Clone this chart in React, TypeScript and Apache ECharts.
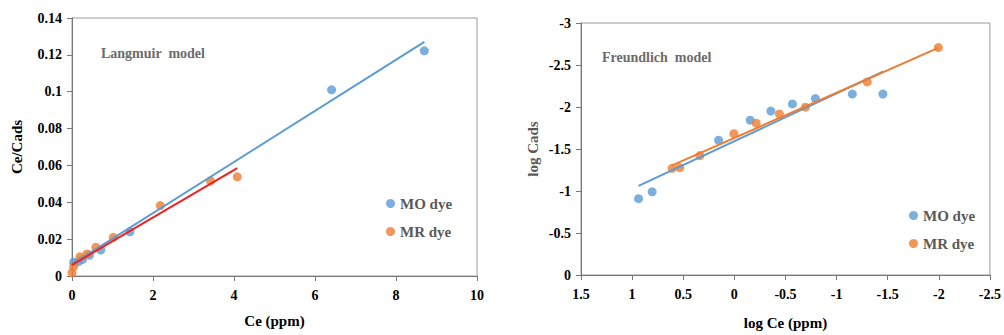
import React, { useEffect, useRef } from "react";
import * as echarts from "echarts";

// Langmuir model data (Ce ppm, Ce/Cads)
const langMO: [number, number][] = [
  [0.04, 0.0075], [0.16, 0.0078], [0.26, 0.009], [0.43, 0.0112], [0.71, 0.0141],
  [1.43, 0.024], [6.41, 0.101], [8.7, 0.1222],
];
const langMR: [number, number][] = [
  [0.0, 0.0018], [0.04, 0.005], [0.2, 0.0105], [0.37, 0.012], [0.59, 0.0156],
  [1.02, 0.021], [2.18, 0.0382], [3.42, 0.0516], [4.08, 0.0538],
];
const langMOFit: [number, number][] = [[0, 0.0064], [8.7, 0.127]];
const langMRFit: [number, number][] = [[0, 0.006], [4.08, 0.0585]];

// Freundlich model data (log Ce, log Cads)
const freMO: [number, number][] = [
  [0.937, -0.908], [0.804, -0.99], [0.154, -1.605], [-0.155, -1.843], [-0.357, -1.952],
  [-0.568, -2.037], [-0.793, -2.1], [-1.154, -2.154], [-1.453, -2.154],
];
const freMR: [number, number][] = [
  [0.609, -1.27], [0.534, -1.278], [0.336, -1.422], [0.004, -1.683], [-0.214, -1.808],
  [-0.441, -1.917], [-0.695, -1.998], [-1.3, -2.298], [-1.996, -2.707],
];
const freMOFit: [number, number][] = [[0.937, -1.06], [-1.453, -2.42]];
const freMRFit: [number, number][] = [[0.609, -1.305], [-2.0, -2.707]];

const seriesNames = ["MO dye", "MR dye"];
const modelTitles = ["Langmuir  model", "Freundlich  model"];

const BLUE = "#5B9BD5";
const ORANGE = "#ED7D31";
const RED = "#F41F1F";
const FONT = "'Liberation Serif', 'Times New Roman', serif";

export default function App() {
  const ref = useRef<HTMLDivElement>(null);
  useEffect(() => {
    if (!ref.current) return;
    const chart = echarts.init(ref.current, null, { renderer: "svg" });
    const axisLabel = (margin: number) => ({
      fontFamily: FONT,
      fontWeight: "bold",
      fontSize: 14,
      color: "#000",
      margin,
    });
    const axisLine = { show: true, lineStyle: { color: "#777", width: 1 } };
    const axisTick = { show: true, inside: false, length: 5, lineStyle: { color: "#777" } };
    const nameStyle = (color: string) => ({
      fontFamily: FONT,
      fontWeight: "bold",
      fontSize: 15,
      color,
    });
    const legendCommon = {
      orient: "vertical",
      icon: "circle",
      itemWidth: 9,
      itemHeight: 9,
      itemGap: 13,
      textStyle: { fontFamily: FONT, fontWeight: "bold", fontSize: 15, color: "#595959" },
      data: seriesNames,
      selectedMode: false,
    };
    chart.setOption({
      animation: false,
      backgroundColor: "#fff",
      grid: [
        { left: 72, right: 527, top: 18, bottom: 59, show: true, borderColor: "#999", borderWidth: 1 },
        { left: 581, right: 13, top: 23, bottom: 55, show: true, borderColor: "#999", borderWidth: 1 },
      ],
      legend: [
        { ...legendCommon, left: 381, top: 191 },
        { ...legendCommon, left: 904, top: 203 },
      ],
      graphic: [
        {
          type: "text",
          left: 101,
          top: 46,
          style: { text: modelTitles[0], fontFamily: FONT, fontWeight: "bold", fontSize: 14, fill: "#6b6b6b" },
        },
        {
          type: "text",
          left: 602,
          top: 50,
          style: { text: modelTitles[1], fontFamily: FONT, fontWeight: "bold", fontSize: 14, fill: "#6b6b6b" },
        },
      ],
      xAxis: [
        {
          gridIndex: 0,
          type: "value",
          min: 0,
          max: 10,
          interval: 2,
          name: "Ce (ppm)",
          nameLocation: "middle",
          nameGap: 37,
          nameTextStyle: nameStyle("#000"),
          axisLine,
          axisTick,
          axisLabel: axisLabel(12),
          splitLine: { show: false },
        },
        {
          gridIndex: 1,
          type: "value",
          min: -2.5,
          max: 1.5,
          interval: 0.5,
          inverse: true,
          name: "log Ce (ppm)",
          nameLocation: "middle",
          nameGap: 40,
          nameTextStyle: nameStyle("#000"),
          axisLine: { ...axisLine, onZero: false },
          axisTick,
          axisLabel: axisLabel(12),
          splitLine: { show: false },
        },
      ],
      yAxis: [
        {
          gridIndex: 0,
          type: "value",
          min: 0,
          max: 0.14,
          interval: 0.02,
          name: "Ce/Cads",
          nameLocation: "middle",
          nameGap: 48,
          nameTextStyle: nameStyle("#000"),
          axisLine,
          axisTick,
          axisLabel: axisLabel(10),
          splitLine: { show: false },
        },
        {
          gridIndex: 1,
          type: "value",
          min: -3,
          max: 0,
          interval: 0.5,
          inverse: true,
          name: "log Cads",
          nameLocation: "middle",
          nameGap: 41,
          nameTextStyle: nameStyle("#595959"),
          axisLine: { ...axisLine, onZero: false },
          axisTick,
          axisLabel: axisLabel(10),
          splitLine: { show: false },
        },
      ],
      series: [
        {
          name: seriesNames[0], type: "scatter", xAxisIndex: 0, yAxisIndex: 0,
          data: langMO, symbolSize: 9, itemStyle: { color: BLUE },
        },
        {
          name: seriesNames[1], type: "scatter", xAxisIndex: 0, yAxisIndex: 0,
          data: langMR, symbolSize: 9, itemStyle: { color: ORANGE },
        },
        {
          type: "line", xAxisIndex: 0, yAxisIndex: 0, data: langMOFit, showSymbol: false,
          symbol: "none", lineStyle: { color: BLUE, width: 2 }, silent: true,
        },
        {
          type: "line", xAxisIndex: 0, yAxisIndex: 0, data: langMRFit, showSymbol: false,
          symbol: "none", lineStyle: { color: RED, width: 2 }, silent: true,
        },
        {
          name: seriesNames[0], type: "scatter", xAxisIndex: 1, yAxisIndex: 1,
          data: freMO, symbolSize: 9, itemStyle: { color: BLUE },
        },
        {
          name: seriesNames[1], type: "scatter", xAxisIndex: 1, yAxisIndex: 1,
          data: freMR, symbolSize: 9, itemStyle: { color: ORANGE },
        },
        {
          type: "line", xAxisIndex: 1, yAxisIndex: 1, data: freMOFit, showSymbol: false,
          symbol: "none", lineStyle: { color: BLUE, width: 2 }, silent: true,
        },
        {
          type: "line", xAxisIndex: 1, yAxisIndex: 1, data: freMRFit, showSymbol: false,
          symbol: "none", lineStyle: { color: ORANGE, width: 2 }, silent: true,
        },
      ],
    });
    return () => chart.dispose();
  }, []);
  return (
    <div
      ref={ref}
      style={{ position: "absolute", left: 0, top: 0, width: 1004, height: 335 }}
    />
  );
}
